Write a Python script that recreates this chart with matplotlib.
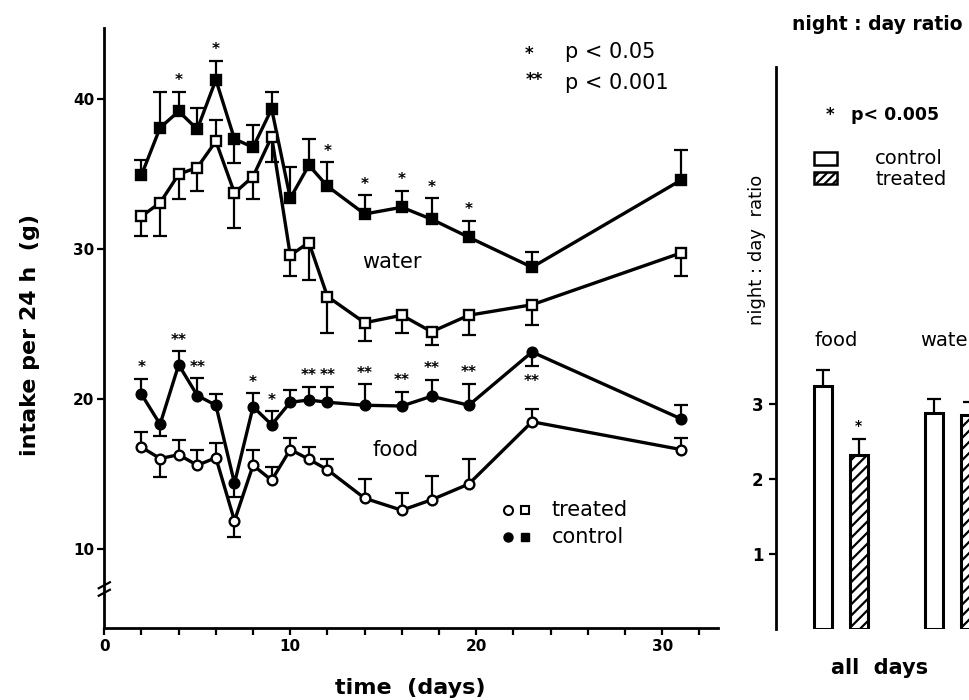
import numpy as np
import matplotlib.pyplot as plt
from matplotlib.patches import Rectangle

plt.rcParams["font.family"] = ["DejaVu Sans"]
plt.rcParams["font.weight"] = "bold"
plt.rcParams["hatch.linewidth"] = 1.6

# ---- left panel: daily intake ----
days = [2, 3, 4, 5, 6, 7, 8, 9, 10, 11, 12, 14, 16, 17.6, 19.6, 23, 31]

water_ctrl = [34.95, 38.1, 39.2, 38.0, 41.3, 37.35, 36.8, 39.35, 33.4, 35.6, 34.2,
              32.35, 32.8, 32.0, 30.8, 28.8, 34.6]
water_ctrl_bar = [35.95, 40.5, 40.5, 39.4, 42.55, 35.75, 38.3, 40.5, 35.5, 37.35, 35.8,
                  33.6, 33.9, 33.4, 31.9, 29.85, 36.65]
water_trt = [32.2, 33.1, 35.0, 35.45, 37.2, 33.75, 34.85, 37.5, 29.6, 30.45, 26.85,
             25.1, 25.6, 24.5, 25.6, 26.3, 29.75]
water_trt_bar = [30.9, 30.9, 33.35, 33.9, 38.65, 31.4, 33.35, 35.8, 28.2, 27.95, 24.4,
                 23.9, 24.4, 23.6, 24.3, 24.95, 28.2]
food_ctrl = [20.33, 18.33, 22.3, 20.25, 19.6, 14.4, 19.5, 18.3, 19.8, 19.95, 19.8,
             19.6, 19.55, 20.2, 19.6, 23.15, 18.7]
food_ctrl_bar = [21.35, 17.55, 23.2, 21.4, 20.35, 13.5, 20.4, 19.2, 20.6, 20.85, 20.85,
                 21.0, 20.5, 21.3, 21.05, 22.2, 19.65]
food_trt = [16.8, 16.05, 16.3, 15.6, 16.1, 11.9, 15.6, 14.6, 16.65, 16.0, 15.3,
            13.4, 12.6, 13.3, 14.35, 18.5, 16.65]
food_trt_bar = [17.8, 14.85, 17.3, 16.65, 17.1, 10.85, 16.6, 15.5, 17.4, 16.8, 16.05,
                14.7, 13.75, 14.9, 16.05, 19.35, 17.45]

water_sig = ["", "", "*", "", "*", "", "", "", "", "", "*", "*", "*", "*", "*", "", ""]
food_sig = ["*", "", "**", "**", "", "", "*", "*", "", "**", "**", "**", "**", "**", "**", "**", ""]

# ---- right panel: night:day ratio ----
groups = ["food", "water"]
ratio_ctrl = [3.24, 2.88]
ratio_ctrl_bar = [3.45, 3.07]
ratio_trt = [2.32, 2.86]
ratio_trt_bar = [2.54, 3.03]
ratio_sig = ["*", ""]

fig = plt.figure(figsize=(9.69, 7.0), dpi=100)
ax = fig.add_axes([104.3 / 969, 1 - 628 / 700, (718 - 104.3) / 969, (628 - 28) / 700])


def series(y, bar_end, marker, filled, sig=None):
    y = np.asarray(y)
    bar_end = np.asarray(bar_end)
    ax.vlines(days, y, bar_end, color="black", lw=1.6, zorder=2)
    ax.plot(days, bar_end, ls="none", marker="_", ms=10, mew=1.6, color="black", zorder=2)
    ax.plot(days, y, color="black", lw=2.4, marker=marker, ms=7,
            mfc="black" if filled else "white", mec="black", mew=1.7, zorder=3)
    if sig is None:
        return
    for d, v, e, s in zip(days, y, bar_end, sig):
        if not s:
            continue
        off = 8 if e >= v else -11
        ax.annotate(s, (d, e), xytext=(0, off), textcoords="offset points",
                    ha="center", va="center", fontsize=11, fontweight="bold")


series(water_ctrl, water_ctrl_bar, "s", True, water_sig)
series(water_trt, water_trt_bar, "s", False)
series(food_ctrl, food_ctrl_bar, "o", True, food_sig)
series(food_trt, food_trt_bar, "o", False)

ax.set_xlim(0, 33.0)
ax.set_ylim(4.75, 44.75)
ax.set_xticks([0, 10, 20, 30])
ax.set_xticks(np.arange(2, 33, 2), minor=True)
ax.set_yticks([10, 20, 30, 40])
for s in ["top", "right"]:
    ax.spines[s].set_visible(False)
for s in ["left", "bottom"]:
    ax.spines[s].set_linewidth(2)
ax.tick_params(which="both", direction="out", length=5, width=1.6, labelsize=11, pad=3)
ax.tick_params(axis="y", pad=2)

# axis break marks on the y axis
for yb in (7.1, 7.6):
    ax.plot([-0.3, 0.3], [yb - 0.2, yb + 0.2], color="black", lw=1.6, clip_on=False, zorder=5)

ax.text(22.83, 43.0, "*", fontsize=12, ha="center", va="center")
ax.text(24.77, 43.17, "p < 0.05", fontsize=15, ha="left", va="center", fontweight="normal")
ax.text(23.15, 41.3, "**", fontsize=12, ha="center", va="center")
ax.text(24.77, 41.07, "p < 0.001", fontsize=15, ha="left", va="center", fontweight="normal")
ax.text(13.85, 29.17, "water", fontsize=15, ha="left", va="center", fontweight="normal")
ax.text(14.4, 16.6, "food", fontsize=15, ha="left", va="center", fontweight="normal")

# symbol legend
ax.plot([21.7], [12.6], "o", ms=6.5, mfc="white", mec="black", mew=1.5)
ax.plot([22.6], [12.6], "s", ms=5.5, mfc="white", mec="black", mew=1.5)
ax.plot([21.7], [10.8], "o", ms=6.5, color="black")
ax.plot([22.6], [10.8], "s", ms=5.5, color="black")
ax.text(24.07, 12.6, "treated", fontsize=15, va="center", fontweight="normal")
ax.text(24.07, 10.8, "control", fontsize=15, va="center", fontweight="normal")

fig.text(30 / 969, 1 - 335 / 700, "intake per 24 h  (g)", rotation=90,
         ha="center", va="center", fontsize=16)
fig.text(410 / 969, 1 - 688 / 700, "time  (days)", ha="center", va="center", fontsize=16)

# ---- right panel ----
ax2 = fig.add_axes([776 / 969, 1 - 629 / 700, 300 / 969, (629 - 66.7) / 700])
ax2.set_xlim(0, 10)
ax2.set_ylim(0, 7.5)
centers = np.array([2.16, 5.88])
ax2.bar(centers - 0.6, ratio_ctrl, width=0.6, color="white", edgecolor="black", lw=2.2)
ax2.bar(centers + 0.6, ratio_trt, width=0.6, color="white", edgecolor="black", lw=2.2,
        hatch="///")
for xs, v, e in [(centers - 0.6, ratio_ctrl, ratio_ctrl_bar), (centers + 0.6, ratio_trt, ratio_trt_bar)]:
    ax2.vlines(xs, v, e, color="black", lw=1.6)
    ax2.plot(xs, e, ls="none", marker="_", ms=10, mew=1.6, color="black")
for xc, e, s in zip(centers + 0.6, ratio_trt_bar, ratio_sig):
    if s:
        ax2.annotate(s, (xc, e), xytext=(0, 9), textcoords="offset points",
                     ha="center", va="center", fontsize=10)
for xc, g in zip(centers, groups):
    ax2.text(xc - 0.14, 3.85, g, fontsize=14, ha="center", va="center", fontweight="normal")

for s in ["top", "right", "bottom"]:
    ax2.spines[s].set_visible(False)
ax2.spines["left"].set_linewidth(2)
ax2.set_xticks([])
ax2.set_yticks([1, 2, 3])
ax2.tick_params(direction="out", length=5, width=1.6, labelsize=12, pad=4)

ax2.text(1.8, 6.85, "*", fontsize=12, ha="center", va="center")
ax2.text(2.5, 6.85, "p< 0.005", fontsize=12.5, ha="left", va="center")
ax2.add_patch(Rectangle((1.27, 6.19), 0.76, 0.17, fc="white", ec="black", lw=1.8, clip_on=False))
ax2.add_patch(Rectangle((1.27, 5.94), 0.76, 0.16, fc="white", ec="black", lw=1.8,
                        hatch="////", clip_on=False))
ax2.text(3.3, 6.28, "control", fontsize=14, va="center", fontweight="normal")
ax2.text(3.3, 5.99, "treated", fontsize=14, va="center", fontweight="normal")

fig.text(792 / 969, 1 - 25 / 700, "night : day ratio", ha="left", va="center", fontsize=13.5)
fig.text(757 / 969, 1 - 250 / 700, "night : day  ratio", rotation=90, ha="center",
         va="center", fontsize=13, fontweight="normal")
fig.text(880 / 969, 1 - 668 / 700, "all  days", ha="center", va="center", fontsize=15)

fig.savefig("out.png", dpi=100, facecolor="white")
